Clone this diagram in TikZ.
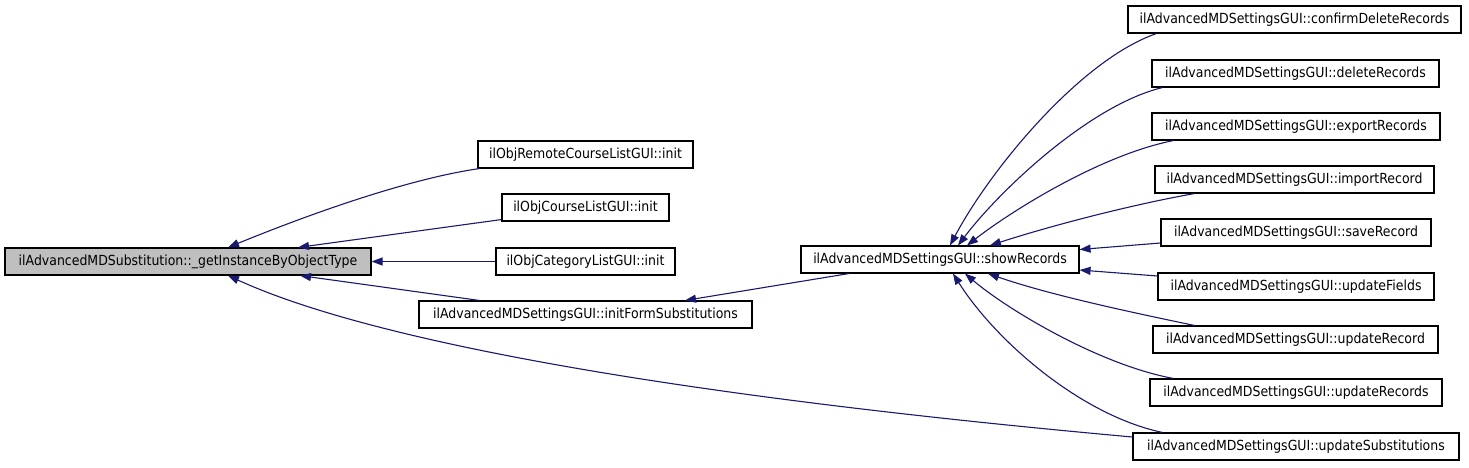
\documentclass[tikz,border=0pt]{standalone}
\usepackage{fontspec}
\setmainfont{DejaVu Sans}[FakeStretch=0.9]
\usetikzlibrary{arrows.meta}
\definecolor{edgeblue}{HTML}{191970}
\definecolor{mainfill}{HTML}{BFBFBF}
\tikzset{
  box/.style={draw=black, line width=1.1pt, fill=white, inner sep=0pt, minimum height=27pt,
    font=\fontsize{13.9}{16}\selectfont},
  mainbox/.style={box, fill=mainfill},
  arr/.style={draw=edgeblue, line width=1.1pt, {Triangle[length=11pt,width=8pt]}-},
}
\begin{document}
\begin{tikzpicture}[x=1pt,y=-1pt]
\useasboundingbox[fill=white] (0,0) rectangle (1469,467);
% nodes
\node[mainbox, minimum width=366pt] (main) at (188,261.5) {ilAdvancedMDSubstitution::\_getInstanceByObjectType};
\node[box, minimum width=215pt] (remote) at (585.5,154.5) {ilObjRemoteCourseListGUI::init};
\node[box, minimum width=167pt] (course) at (585.5,207.5) {ilObjCourseListGUI::init};
\node[box, minimum width=179pt] (category) at (585.5,261.5) {ilObjCategoryListGUI::init};
\node[box, minimum width=333pt] (initform) at (585.5,314.5) {ilAdvancedMDSettingsGUI::initFormSubstitutions};
\node[box, minimum width=278pt] (show) at (940,259.5) {ilAdvancedMDSettingsGUI::showRecords};
\node[box, minimum width=333pt] (confirm) at (1294.5,19.5) {ilAdvancedMDSettingsGUI::confirmDeleteRecords};
\node[box, minimum width=287pt] (delete) at (1295.5,73.5) {ilAdvancedMDSettingsGUI::deleteRecords};
\node[box, minimum width=288pt] (export) at (1296,126.5) {ilAdvancedMDSettingsGUI::exportRecords};
\node[box, minimum width=279pt] (import) at (1294.5,179.5) {ilAdvancedMDSettingsGUI::importRecord};
\node[box, minimum width=270pt] (save) at (1296,232.5) {ilAdvancedMDSettingsGUI::saveRecord};
\node[box, minimum width=276pt] (fields) at (1296,286.5) {ilAdvancedMDSettingsGUI::updateFields};
\node[box, minimum width=285pt] (urecord) at (1295.5,339.5) {ilAdvancedMDSettingsGUI::updateRecord};
\node[box, minimum width=292pt] (urecords) at (1296,392.5) {ilAdvancedMDSettingsGUI::updateRecords};
\node[box, minimum width=326pt] (usubs) at (1296,446.5) {ilAdvancedMDSettingsGUI::updateSubstitutions};
% edges into main
\draw[arr] ([xshift=40pt]main.north) .. controls (290,222) and (400,180) .. ([xshift=2pt]remote.south west);
\draw[arr] ([xshift=110pt]main.north) -- ([yshift=2pt]course.south west);
\draw[arr] (main.east) -- (category.west);
\draw[arr] ([xshift=112pt]main.south) -- ([xshift=61pt]initform.north west);
\draw[arr] ([xshift=40pt]main.south) .. controls (380,345) and (700,398) .. ([yshift=9.5pt]usubs.west);
% edge into initForm
\draw[arr] ([xshift=99.5pt]initform.north) -- ([xshift=-91pt]show.south);
% edges into showRecords
\draw[arr] ([xshift=10pt]show.north) .. controls (990,170) and (1080,60) .. ([xshift=29pt]confirm.south west);
\draw[arr] ([xshift=18pt]show.north) .. controls (1000,190) and (1090,105) .. ([xshift=11pt]delete.south west);
\draw[arr] ([xshift=27pt]show.north) .. controls (1010,212) and (1100,155) .. ([xshift=22pt]export.south west);
\draw[arr] ([xshift=50pt]show.north) .. controls (1050,226) and (1130,205) .. ([xshift=40pt]import.south west);
\draw[arr] ([yshift=10pt]show.east) -- ([yshift=-10.5pt]save.west);
\draw[arr] ([yshift=-10.5pt]show.east) -- ([yshift=10.5pt]fields.west);
\draw[arr] ([xshift=48pt]show.south) .. controls (1050,295) and (1130,312) .. ([xshift=42pt]urecord.north west);
\draw[arr] ([xshift=25pt]show.south) .. controls (1008,310) and (1100,365) .. ([xshift=24pt]urecords.north west);
\draw[arr] ([xshift=13pt]show.south) .. controls (995,340) and (1080,415) .. ([xshift=30pt]usubs.north west);
\end{tikzpicture}
\end{document}
